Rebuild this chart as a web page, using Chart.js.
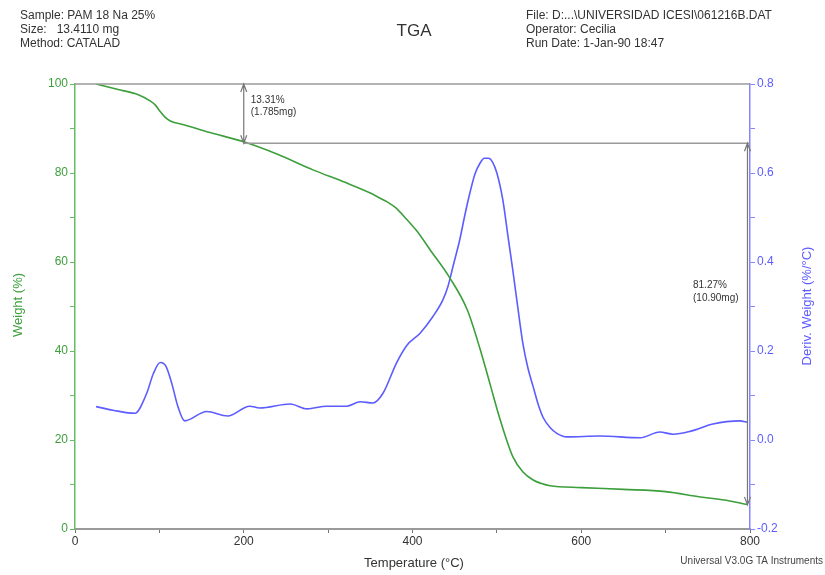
<!DOCTYPE html>
<html>
<head>
<meta charset="utf-8">
<title>TGA</title>
<script src="https://cdn.jsdelivr.net/npm/chart.js@4.4.1/dist/chart.umd.min.js"></script>
<style>
  html, body { margin: 0; padding: 0; background: #fff; }
  #wrap { width: 825px; height: 575px; }
</style>
</head>
<body>
<div id="wrap"><canvas id="tga" width="825" height="575"></canvas></div>
<script>
const tempWeight = [25, 50, 75, 89, 95, 101, 107, 113, 130, 160, 200, 240, 282, 320, 350, 361, 370, 380, 393, 405, 421, 444, 465, 480, 492, 504, 519, 531, 543, 553, 563, 600, 650, 700, 741, 770, 797];
const weightPct  = [100, 98.8, 97.6, 96.2, 95.3, 93.8, 92.5, 91.7, 90.8, 89.1, 87.0, 84.2, 80.7, 77.9, 75.5, 74.4, 73.5, 72.2, 69.6, 67.0, 62.7, 56.5, 49.2, 40.5, 32.5, 24.5, 16.2, 12.8, 11.0, 10.2, 9.7, 9.3, 8.9, 8.4, 7.2, 6.5, 5.5];

const tempDeriv  = [25, 45, 71, 85, 93, 101, 108, 115, 122, 130, 156, 181, 207, 219, 255, 275, 298, 322, 338, 353, 365, 381, 393, 409, 424, 436, 442, 448, 456, 462, 468, 474, 480, 485, 490, 495, 500, 507, 513, 519, 525, 531, 537, 543, 549, 555, 563, 571, 583, 622, 670, 693, 709, 730, 756, 788, 797];
const derivWeight = [0.075, 0.067, 0.060, 0.105, 0.150, 0.174, 0.165, 0.125, 0.075, 0.043, 0.064, 0.054, 0.076, 0.072, 0.081, 0.070, 0.076, 0.076, 0.086, 0.083, 0.105, 0.173, 0.212, 0.240, 0.277, 0.315, 0.345, 0.390, 0.450, 0.505, 0.555, 0.598, 0.622, 0.633, 0.633, 0.624, 0.600, 0.540, 0.460, 0.380, 0.295, 0.215, 0.160, 0.120, 0.080, 0.050, 0.028, 0.015, 0.007, 0.009, 0.005, 0.018, 0.013, 0.020, 0.036, 0.043, 0.040];

// escalones marcados en la curva
const stepTemps   = [200, 797];
const stepWeights = [100, 86.69, 5.42];
const stepLabels  = [['13.31%', '(1.785mg)'], ['81.27%', '(10.90mg)']];

const headerLeft  = ['Sample: PAM 18 Na 25%', 'Size:   13.4110 mg', 'Method: CATALAD'];
const headerRight = ['File: D:...\\UNIVERSIDAD ICESI\\061216B.DAT', 'Operator: Cecilia', 'Run Date: 1-Jan-90 18:47'];

const GREEN = '#3c9f3c';
const GREEN_AXIS = '#66bb66';
const BLUE = '#5c5cff';
const BLUE_AXIS = '#8585ff';
const GRAY = '#9a9a9a';
const FONT = "'Liberation Sans', Arial, sans-serif";

const toPoints = (xs, ys) => xs.map((x, i) => ({ x, y: ys[i] }));

// ─── textos, flechas y títulos de ejes ─────────────────
const decor = {
  id: 'tgaDecor',
  afterDatasetsDraw(chart) {
    const { ctx, scales: { x, y } } = chart;
    const xL = x.getPixelForValue(0), xR = x.getPixelForValue(800);
    const y0 = y.getPixelForValue(stepWeights[0]);
    const y1 = y.getPixelForValue(stepWeights[1]);
    const y2 = y.getPixelForValue(stepWeights[2]);
    const xa = x.getPixelForValue(stepTemps[0]);
    const xb = x.getPixelForValue(stepTemps[1]);

    ctx.save();
    ctx.strokeStyle = GRAY;
    ctx.lineWidth = 1.5;
    ctx.beginPath();
    ctx.moveTo(xL, y0); ctx.lineTo(xR, y0);
    ctx.moveTo(xa, y1); ctx.lineTo(xR, y1);
    ctx.stroke();

    function arrow(px, ya, yb) {
      ctx.strokeStyle = '#777';
      ctx.lineWidth = 1.2;
      ctx.beginPath();
      ctx.moveTo(px, ya); ctx.lineTo(px, yb);
      ctx.moveTo(px - 3, ya + 8); ctx.lineTo(px, ya); ctx.lineTo(px + 3, ya + 8);
      ctx.moveTo(px - 3, yb - 8); ctx.lineTo(px, yb); ctx.lineTo(px + 3, yb - 8);
      ctx.stroke();
    }
    arrow(xa, y0, y1);
    arrow(xb, y1, y2);

    ctx.fillStyle = '#333';
    ctx.font = '10px ' + FONT;
    ctx.textAlign = 'left';
    ctx.textBaseline = 'middle';
    ctx.fillText(stepLabels[0][0], xa + 7, 100);
    ctx.fillText(stepLabels[0][1], xa + 7, 112);
    ctx.fillText(stepLabels[1][0], 693, 285);
    ctx.fillText(stepLabels[1][1], 693, 298);
    ctx.restore();
  },
  afterDraw(chart) {
    const { ctx } = chart;
    ctx.save();
    ctx.fillStyle = '#333';
    ctx.font = '12px ' + FONT;
    ctx.textBaseline = 'middle';
    ctx.textAlign = 'left';
    headerLeft.forEach((t, i) => ctx.fillText(t, 20, 16 + i * 14));
    headerRight.forEach((t, i) => ctx.fillText(t, 526, 16 + i * 14));

    ctx.font = '17px ' + FONT;
    ctx.textAlign = 'center';
    ctx.fillText('TGA', 414, 31);

    ctx.font = '13px ' + FONT;
    ctx.fillText('Temperature (°C)', 414, 563);

    ctx.font = '10px ' + FONT;
    ctx.fillStyle = '#444';
    ctx.textAlign = 'right';
    ctx.fillText('Universal V3.0G TA Instruments', 823, 561);

    ctx.textAlign = 'center';
    ctx.font = '13px ' + FONT;
    ctx.save();
    ctx.translate(18, 305);
    ctx.rotate(-Math.PI / 2);
    ctx.fillStyle = GREEN;
    ctx.fillText('Weight (%)', 0, 0);
    ctx.restore();

    ctx.save();
    ctx.translate(807, 306);
    ctx.rotate(-Math.PI / 2);
    ctx.fillStyle = BLUE;
    ctx.fillText('Deriv. Weight (%/°C)', 0, 0);
    ctx.restore();
    ctx.restore();
  }
};

new Chart(document.getElementById('tga'), {
  type: 'line',
  data: {
    datasets: [
      {
        label: 'Weight (%)',
        data: toPoints(tempWeight, weightPct),
        yAxisID: 'y',
        borderColor: GREEN,
        borderWidth: 1.6,
        pointRadius: 0,
        cubicInterpolationMode: 'monotone',
      },
      {
        label: 'Deriv. Weight (%/°C)',
        data: toPoints(tempDeriv, derivWeight),
        yAxisID: 'y1',
        borderColor: BLUE,
        borderWidth: 1.6,
        pointRadius: 0,
        cubicInterpolationMode: 'monotone',
      },
    ],
  },
  options: {
    responsive: false,
    animation: false,
    devicePixelRatio: 1,
    layout: { padding: { top: 84, left: 0, right: 0, bottom: 0 } },
    plugins: {
      legend: { display: false },
      tooltip: { enabled: false },
    },
    scales: {
      x: {
        type: 'linear',
        min: 0, max: 800,
        afterFit: s => { s.height = 46; },
        border: { color: GRAY, width: 2 },
        grid: { drawOnChartArea: false, tickLength: 4, color: '#777' },
        ticks: {
          stepSize: 100,
          color: '#333',
          font: { family: FONT, size: 12 },
          padding: 1,
          maxRotation: 0,
          callback: v => (v % 200 === 0 ? v : ''),
        },
      },
      y: {
        position: 'left',
        min: 0, max: 100,
        afterFit: s => { s.width = 75; },
        border: { color: GREEN_AXIS, width: 1.5 },
        grid: { drawOnChartArea: false, tickLength: 5, color: GREEN_AXIS },
        ticks: {
          stepSize: 10,
          color: GREEN,
          font: { family: FONT, size: 12 },
          padding: 2,
          callback: v => (v % 20 === 0 ? v : ''),
        },
      },
      y1: {
        position: 'right',
        min: -0.2, max: 0.8,
        afterFit: s => { s.width = 75; },
        border: { color: BLUE_AXIS, width: 1.5 },
        grid: { drawOnChartArea: false, tickLength: 5, color: BLUE_AXIS },
        ticks: {
          stepSize: 0.1,
          color: BLUE,
          font: { family: FONT, size: 12 },
          padding: 2,
          callback: v => (Math.round(v * 10) % 2 === 0 ? v.toFixed(1) : ''),
        },
      },
    },
  },
  plugins: [decor],
});
</script>
</body>
</html>
